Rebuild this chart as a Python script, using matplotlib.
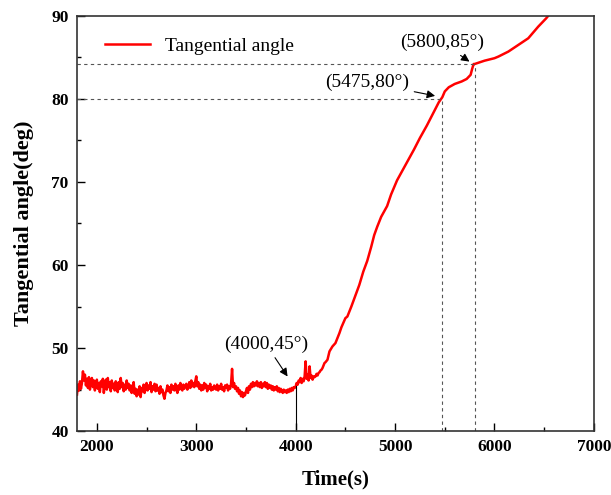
import matplotlib
matplotlib.use('Agg')
import matplotlib.pyplot as plt
from matplotlib.ticker import MultipleLocator

# flat noisy part, 10 s steps from 1800 to 4300
flat_start = 1800
flat_step = 10
flat_angle = [
    44.4, 45.6, 44.9, 46.0, 45.1, 45.8, 47.2, 46.1, 46.8, 45.5,
    46.3, 45.2, 46.5, 45.0, 45.9, 46.4, 45.3, 46.1, 44.9, 45.7,
    46.2, 45.1, 45.8, 44.7, 46.0, 45.4, 46.3, 44.6, 45.5, 46.2,
    45.0, 46.4, 45.3, 45.9, 44.8, 46.1, 45.2, 45.7, 44.9, 46.0,
    45.4, 44.7, 45.9, 45.1, 46.4, 45.3, 45.8, 44.8, 45.6, 45.0,
    46.1, 45.2, 45.7, 44.9, 45.5, 44.6, 45.3, 45.9, 44.5, 45.1,
    44.2, 45.0, 44.4, 45.4, 44.1, 45.2, 44.8, 45.6, 44.6, 45.3,
    45.8, 44.9, 45.5, 45.1, 45.9, 44.7, 45.4, 45.0, 45.7, 44.8,
    45.6, 44.9, 45.2, 44.5, 45.4, 44.7, 45.0, 44.3, 43.9, 44.6,
    44.9, 45.5, 44.8, 45.3, 44.6, 45.6, 45.0, 45.4, 44.9, 45.7,
    45.1, 44.6, 45.5, 45.0, 45.8, 45.2, 44.9, 45.6, 45.1, 45.4,
    45.7, 45.0, 45.3, 45.9, 45.2, 46.1, 45.4, 45.8, 45.3, 46.0,
    46.6, 45.4, 45.9, 45.1, 45.6, 44.9, 45.5, 45.0, 45.8, 45.2,
    45.6, 44.8, 45.4, 45.1, 45.7, 44.9, 45.3, 45.0, 45.5, 45.2,
    45.0, 45.6, 44.9, 45.4, 45.1, 45.7, 45.0, 45.3, 44.8, 45.5,
    45.2, 45.6, 44.9, 45.4, 45.1, 45.7, 47.5, 45.3, 45.8, 45.1,
    45.4, 44.8, 45.2, 44.5, 44.9, 44.2, 44.7, 44.1, 44.6, 44.3,
    44.8, 45.2, 44.6, 45.4, 45.0, 45.7, 45.3, 45.9, 45.4, 45.8,
    45.5, 46.0, 45.4, 45.8, 45.3, 45.9, 45.2, 45.7, 45.4, 45.9,
    45.3, 45.8, 45.1, 45.6, 45.2, 45.5, 45.0, 45.4, 44.9, 45.3,
    45.0, 45.4, 44.8, 45.2, 44.7, 45.1, 44.9, 44.6, 45.0, 44.7,
    44.9, 44.6, 45.0, 44.7, 45.1, 44.8, 45.2, 44.9, 45.3, 45.2,
    45.4, 45.8, 45.6, 46.1, 45.9, 46.4, 45.8, 46.3, 46.0, 46.6,
    48.4, 46.3, 46.8, 46.1, 47.8, 46.4, 46.7, 46.2, 46.6, 46.5,
    46.6, 46.9, 46.7, 47.0, 47.1, 47.3, 47.4, 47.6, 47.9, 48.2,
    48.3,
]

# rising part
rise_time = [4320, 4340, 4370, 4400, 4440, 4460, 4500, 4520, 4560, 4600,
             4640, 4680, 4720, 4760, 4790, 4820, 4860, 4920, 4960, 5020,
             5080, 5140, 5190, 5250, 5320, 5380, 5440, 5475, 5500, 5540,
             5600, 5670, 5720, 5760, 5775, 5790, 5800, 5900, 6000, 6040,
             6140, 6240, 6340, 6440, 6520, 6560]
rise_angle = [48.6, 49.6, 50.2, 50.6, 51.8, 52.5, 53.6, 53.8, 55.0, 56.3,
              57.6, 59.2, 60.5, 62.2, 63.6, 64.6, 65.8, 67.1, 68.5, 70.2,
              71.5, 72.8, 73.9, 75.3, 76.8, 78.2, 79.6, 80.2, 80.9, 81.4,
              81.8, 82.1, 82.4, 82.9, 83.6, 84.2, 84.2, 84.6, 84.9, 85.1,
              85.7, 86.5, 87.3, 88.7, 89.7, 90.3]

marks = [(5475, 80.0), (5800, 84.2)]

time = [flat_start + i * flat_step for i in range(len(flat_angle))] + rise_time
angle = flat_angle + rise_angle

plt.rcParams['font.family'] = ['Liberation Serif', 'DejaVu Serif']

fig = plt.figure(figsize=(6.11, 4.95), dpi=100)
ax = fig.add_axes([0.126, 0.129, 0.846, 0.839])

ax.plot(time, angle, color='red', lw=1.8, label='Tangential angle')

# guide lines
for x, y in marks:
    ax.plot([1800, x], [y, y], ls=(0, (3, 3)), color='#555555', lw=0.8)
    ax.plot([x, x], [40, y], ls=(0, (3, 3)), color='#555555', lw=0.8)
ax.plot([4000, 4000], [40, 45.4], color='black', lw=0.8)

arrow = dict(arrowstyle='-|>', color='black', lw=0.8, mutation_scale=12)
ax.annotate('(4000,45°)', xy=(3934, 46.3), xytext=(3700, 50.5), fontsize=14,
            ha='center', va='center', arrowprops=arrow)
ax.annotate('(5475,80°)', xy=(5430, 80.3), xytext=(4715, 82.0), fontsize=14,
            ha='center', va='center', arrowprops=arrow)
ax.annotate('(5800,85°)', xy=(5771, 84.3), xytext=(5470, 86.8), fontsize=14,
            ha='center', va='center', arrowprops=arrow)

ax.set_xlim(1800, 7000)
ax.set_ylim(40, 90)
ax.xaxis.set_major_locator(MultipleLocator(1000))
ax.xaxis.set_minor_locator(MultipleLocator(500))
ax.yaxis.set_major_locator(MultipleLocator(10))
ax.yaxis.set_minor_locator(MultipleLocator(5))
ax.tick_params(which='both', direction='in', width=1.0)
ax.tick_params(which='major', length=6, labelsize=12.5, pad=6)
ax.tick_params(which='minor', length=3)
for lab in ax.get_xticklabels() + ax.get_yticklabels():
    lab.set_fontweight('bold')
for sp in ax.spines.values():
    sp.set_linewidth(1.2)
    sp.set_color('#333333')

ax.set_xlabel('Time(s)', fontsize=15, fontweight='bold', labelpad=10)
ax.set_ylabel('Tangential angle(deg)', fontsize=16, fontweight='bold', labelpad=12)

ax.legend(loc='upper left', bbox_to_anchor=(0.02, 0.99), frameon=False,
          fontsize=14, handlelength=2.3)

fig.savefig('out.png', dpi=100)
